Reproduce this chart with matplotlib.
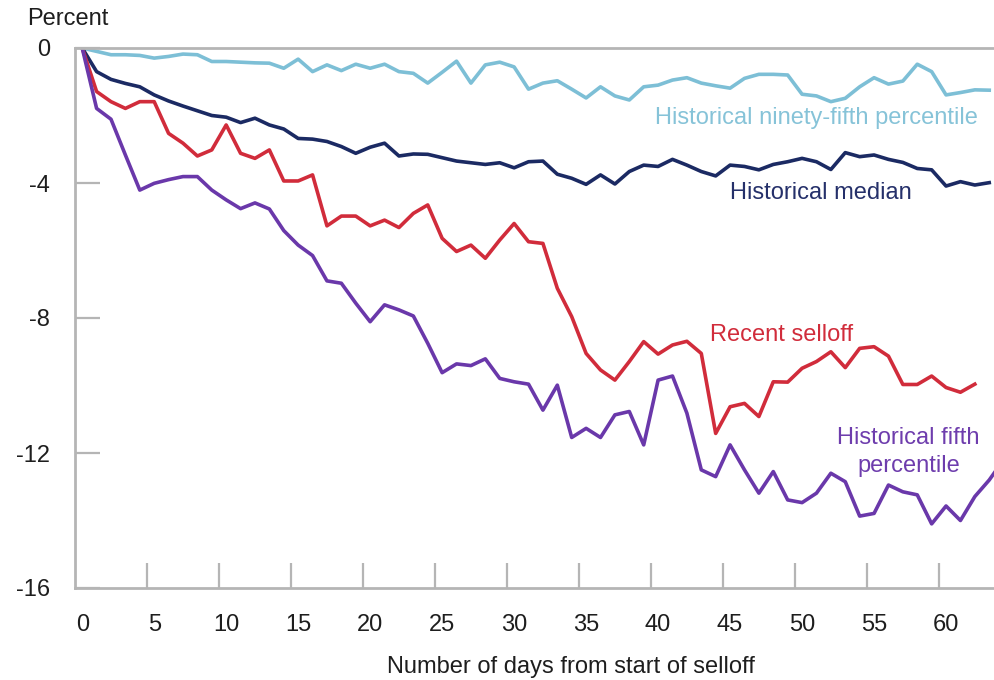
import matplotlib
matplotlib.use("Agg")
import matplotlib.pyplot as plt

plt.rcParams['font.family'] = ['Liberation Sans', 'DejaVu Sans']

# valores (porcentaje, un punto por dia)
p95 = [0, -0.1, -0.2, -0.2, -0.22, -0.3, -0.25, -0.18, -0.2, -0.4,
       -0.4, -0.42, -0.44, -0.45, -0.6, -0.33, -0.7, -0.5, -0.67, -0.48,
       -0.6, -0.48, -0.7, -0.75, -1.04, -0.72, -0.39, -1.04, -0.5, -0.42,
       -0.56, -1.22, -1.04, -0.97, -1.22, -1.48, -1.15, -1.42, -1.54, -1.15,
       -1.1, -0.95, -0.88, -1.04, -1.12, -1.19, -0.9, -0.78, -0.78, -0.8,
       -1.37, -1.42, -1.59, -1.49, -1.15, -0.88, -1.07, -0.98, -0.48, -0.7,
       -1.39, -1.32, -1.24, -1.25]

mediana = [0, -0.7, -0.93, -1.05, -1.15, -1.39, -1.57, -1.72, -1.86, -2.0,
           -2.05, -2.21, -2.08, -2.28, -2.4, -2.68, -2.7, -2.77, -2.92, -3.12,
           -2.94, -2.82, -3.2, -3.14, -3.15, -3.25, -3.35, -3.4, -3.45, -3.4,
           -3.55, -3.37, -3.35, -3.74, -3.86, -4.04, -3.76, -4.03, -3.66, -3.47,
           -3.51, -3.3, -3.47, -3.66, -3.79, -3.47, -3.51, -3.61, -3.45, -3.37,
           -3.27, -3.37, -3.6, -3.1, -3.22, -3.17, -3.3, -3.39, -3.57, -3.61,
           -4.09, -3.96, -4.06, -3.99]

reciente = [0, -1.29, -1.59, -1.79, -1.59, -1.59, -2.53, -2.82, -3.2, -3.02,
            -2.28, -3.12, -3.27, -3.02, -3.94, -3.94, -3.76, -5.27, -4.98, -4.98,
            -5.27, -5.1, -5.32, -4.9, -4.65, -5.64, -6.03, -5.84, -6.23, -5.69,
            -5.2, -5.74, -5.79, -7.12, -7.96, -9.05, -9.54, -9.84, -9.29, -8.7,
            -9.07, -8.8, -8.69, -9.05, -11.42, -10.63, -10.53, -10.92, -9.89, -9.9,
            -9.49, -9.29, -9.0, -9.47, -8.9, -8.85, -9.13, -9.97, -9.97, -9.72,
            -10.06, -10.2, -9.96]

p5 = [0, -1.79, -2.11, -3.17, -4.21, -4.01, -3.9, -3.81, -3.81, -4.21,
      -4.5, -4.76, -4.59, -4.77, -5.41, -5.84, -6.15, -6.9, -6.97, -7.56,
      -8.11, -7.61, -7.76, -7.94, -8.75, -9.62, -9.36, -9.41, -9.21, -9.79,
      -9.89, -9.96, -10.73, -9.99, -11.54, -11.27, -11.54, -10.87, -10.77, -11.76,
      -9.84, -9.72, -10.82, -12.5, -12.7, -11.76, -12.5, -13.19, -12.55, -13.39,
      -13.47, -13.19, -12.6, -12.85, -13.87, -13.79, -12.95, -13.15, -13.24, -14.1,
      -13.57, -14.0, -13.29, -12.8, -12.2]

x_ticks = [0, 5, 10, 15, 20, 25, 30, 35, 40, 45, 50, 55, 60]
y_ticks = [0, -4, -8, -12, -16]

c_p95 = '#7dbfd6'
c_med = '#1b2a63'
c_rec = '#d12c3b'
c_p5 = '#6a38aa'
texto = '#1e1e1e'
fs = 17

fig = plt.figure(figsize=(9.95, 6.8), dpi=100)
ax = fig.add_axes([75 / 995, (680 - 588) / 680, 920 / 995, 540 / 680])

lw = 2.6
ax.plot(range(len(p95)), p95, color=c_p95, lw=lw)
ax.plot(range(len(mediana)), mediana, color=c_med, lw=lw)
ax.plot(range(len(reciente)), reciente, color=c_rec, lw=lw)
ax.plot(range(len(p5)), p5, color=c_p5, lw=lw)

ax.set_xlim(-0.5, 63.4)
ax.set_ylim(-16, 0)

gris = '#b5b5b5'
for lado in ['left', 'bottom', 'top']:
    ax.spines[lado].set_color(gris)
    ax.spines[lado].set_linewidth(2)
ax.spines['right'].set_visible(False)

# etiquetas centradas en el dia, marcas entre dias
ax.set_xticks(x_ticks)
ax.set_xticklabels([str(t) for t in x_ticks])
ax.tick_params(axis='x', length=0, pad=19, labelsize=fs, colors=texto)
ax.set_xticks([t - 0.5 for t in x_ticks[1:]], minor=True)
ax.tick_params(axis='x', which='minor', direction='in', length=18, width=1.6, color=gris)

ax.set_yticks(y_ticks)
ax.set_yticklabels([str(t) for t in y_ticks])
ax.tick_params(axis='y', direction='in', length=18, width=1.6, color=gris,
               pad=18, labelsize=fs, labelcolor=texto)

ax.set_xlabel('Number of days from start of selloff', fontsize=fs, color=texto, labelpad=12)
ax.xaxis.set_label_coords(0.539, -0.125)
fig.text(27 / 995, 1 - 19 / 680, 'Percent', fontsize=fs, color=texto, va='center', ha='left')

ax.text(39.8, -2.07, 'Historical ninety-fifth percentile', color='#86c3d8', fontsize=fs, va='center', ha='left')
ax.text(45.0, -4.3, 'Historical median', color='#25306a', fontsize=fs, va='center', ha='left')
ax.text(43.6, -8.5, 'Recent selloff', color=c_rec, fontsize=fs, va='center', ha='left')
ax.text(57.4, -11.97, 'Historical fifth\npercentile', color='#6e3dad', fontsize=fs,
        va='center', ha='center', multialignment='center', linespacing=1.4)

fig.savefig('out.png', dpi=100)
